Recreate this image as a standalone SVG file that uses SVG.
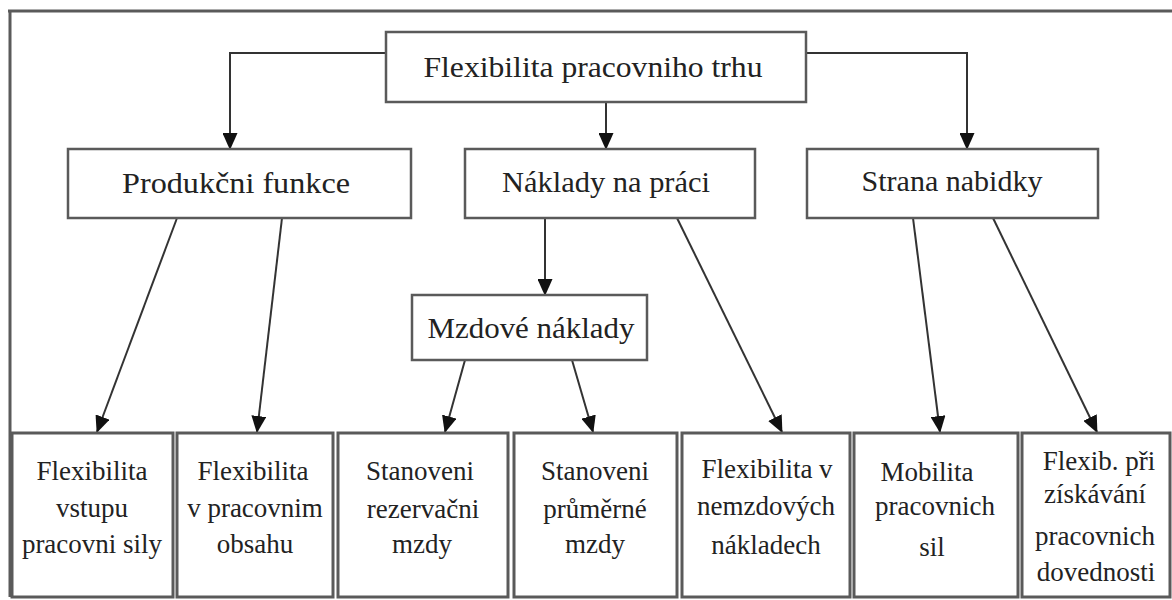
<svg xmlns="http://www.w3.org/2000/svg" width="1172" height="600" viewBox="0 0 1172 600" font-family="'Liberation Serif', 'DejaVu Serif', serif">
<style>
.box{fill:#fff;stroke:#5a5a5a;stroke-width:2.5}
.bbox{fill:#fff;stroke:#5a5a5a;stroke-width:3}
text{font-family:'Liberation Serif','DejaVu Serif',serif}
.t{fill:#222;text-anchor:middle}
.big{font-size:30px}
.sm{font-size:27px}
.c{fill:none;stroke:#333;stroke-width:2}
.frame{fill:none;stroke:#5a5a5a;stroke-width:3}
</style>
<defs>
<marker id="ah" markerUnits="userSpaceOnUse" markerWidth="17" markerHeight="15" viewBox="0 0 17 15" refX="16" refY="7.5" orient="auto">
<path d="M0,0 L17,7.5 L0,15 Z" fill="#111"/>
</marker>
</defs>
<rect width="1172" height="600" fill="#fff"/>
<g id="frame">
<path class="frame" d="M8,11 H1172 M10,11 V597"/>
</g>
<g id="connectors">
<path class="c" d="M386,53 H230 V149" marker-end="url(#ah)"/>
<path class="c" d="M806,53 H967 V149" marker-end="url(#ah)"/>
<path class="c" d="M606,102 V149" marker-end="url(#ah)"/>
<path class="c" d="M177,218 L97,432" marker-end="url(#ah)"/>
<path class="c" d="M282,218 L257,432" marker-end="url(#ah)"/>
<path class="c" d="M545,218 V295" marker-end="url(#ah)"/>
<path class="c" d="M677,218 L782,432" marker-end="url(#ah)"/>
<path class="c" d="M465,360 L445,432" marker-end="url(#ah)"/>
<path class="c" d="M572,360 L593,432" marker-end="url(#ah)"/>
<path class="c" d="M913,218 L940,432" marker-end="url(#ah)"/>
<path class="c" d="M993,218 L1097,432" marker-end="url(#ah)"/>
</g>
<g id="n-top">
<rect class="box" x="386" y="32" width="420" height="70"/>
<text class="t big" x="593" y="77" font-size="31" textLength="339" lengthAdjust="spacingAndGlyphs">Flexibilita pracovniho trhu</text>
</g>
<g id="n-produkcni">
<rect class="box" x="68" y="149" width="343" height="69"/>
<text class="t big" x="236" y="193" textLength="228" lengthAdjust="spacingAndGlyphs">Produkčni funkce</text>
</g>
<g id="n-naklady">
<rect class="box" x="465" y="149" width="290" height="69"/>
<text class="t big" x="606" y="192" textLength="208" lengthAdjust="spacingAndGlyphs">Náklady na práci</text>
</g>
<g id="n-strana">
<rect class="box" x="807" y="149" width="291" height="69"/>
<text class="t big" x="952" y="191">Strana nabidky</text>
</g>
<g id="n-mzdove">
<rect class="box" x="412" y="295" width="235" height="65"/>
<text class="t big" x="531" y="338" textLength="207" lengthAdjust="spacingAndGlyphs">Mzdové náklady</text>
</g>
<g id="n-b1">
<rect class="bbox" x="12" y="433" width="161" height="164"/>
<text class="t sm" x="92"><tspan x="92" y="480">Flexibilita</tspan><tspan x="92" y="517">vstupu</tspan><tspan x="92" y="553">pracovni sily</tspan></text>
</g>
<g id="n-b2">
<rect class="bbox" x="177" y="433" width="156" height="164"/>
<text class="t sm" x="255"><tspan x="253" y="480">Flexibilita</tspan><tspan x="255" y="517">v pracovnim</tspan><tspan x="255" y="553">obsahu</tspan></text>
</g>
<g id="n-b3">
<rect class="bbox" x="338" y="433" width="170" height="164"/>
<text class="t sm" x="423"><tspan x="420" y="480">Stanoveni</tspan><tspan x="423" y="518">rezervačni</tspan><tspan x="422" y="553">mzdy</tspan></text>
</g>
<g id="n-b4">
<rect class="bbox" x="514" y="433" width="163" height="164"/>
<text class="t sm" x="595"><tspan x="595" y="480">Stanoveni</tspan><tspan x="595" y="518">průměrné</tspan><tspan x="595" y="553">mzdy</tspan></text>
</g>
<g id="n-b5">
<rect class="bbox" x="682" y="433" width="168" height="164"/>
<text class="t sm" x="766"><tspan x="767" y="478">Flexibilita v</tspan><tspan x="766" y="515">nemzdových</tspan><tspan x="766" y="554">nákladech</tspan></text>
</g>
<g id="n-b6">
<rect class="bbox" x="854" y="433" width="164" height="164"/>
<text class="t sm" x="932"><tspan x="927" y="481">Mobilita</tspan><tspan x="935" y="515">pracovnich</tspan><tspan x="932" y="556">sil</tspan></text>
</g>
<g id="n-b7">
<rect class="bbox" x="1022" y="433" width="148" height="164"/>
<text class="t sm" x="1097" font-size="26"><tspan x="1099" y="470">Flexib. při</tspan><tspan x="1095" y="503">získávání</tspan><tspan x="1095" y="545">pracovnich</tspan><tspan x="1096" y="581">dovednosti</tspan></text>
</g>
</svg>
